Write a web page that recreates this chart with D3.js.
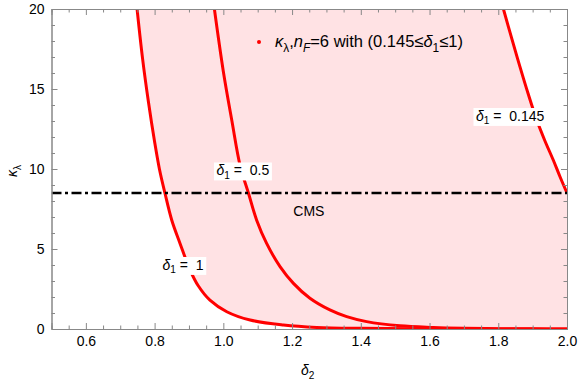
<!DOCTYPE html>
<html>
<head>
<meta charset="utf-8">
<script src="https://cdn.jsdelivr.net/npm/d3@7"></script>
<style>
  body { margin: 0; background: #fff; }
  text { font-family: "Liberation Sans", Arial, sans-serif; white-space: pre; }
</style>
</head>
<body>
<svg id="chart" width="581" height="382"></svg>
<script>
// curve delta1 = 1
const d2One = [0.749, 0.765, 0.782, 0.8, 0.814, 0.83, 0.85, 0.874, 0.903, 0.927, 0.961, 1.01, 1.078, 1.175, 1.272, 1.4, 1.55, 1.75, 2.0];
const kOne  = [20, 16.9, 14.2, 11.7, 10.0, 8.5, 6.8, 5.35, 3.7, 2.7, 1.8, 1.08, 0.56, 0.25, 0.1, 0.04, 0.015, 0.005, 0.001];
// curve delta1 = 0.5
const d2Half = [0.974, 1.0, 1.025, 1.049, 1.073, 1.097, 1.126, 1.165, 1.204, 1.252, 1.31, 1.359, 1.417, 1.514, 1.611, 1.7, 1.8, 1.9, 2.0];
const kHalf  = [20, 16.1, 13.0, 10.2, 8.5, 6.8, 5.35, 3.9, 2.85, 1.92, 1.19, 0.77, 0.46, 0.2, 0.1, 0.05, 0.022, 0.01, 0.004];
// curve delta1 = 0.145
const d2Low = [1.815, 1.84, 1.863, 1.887, 1.912, 1.935, 1.96, 1.98, 2.0];
const kLow  = [20, 18.1, 16.4, 14.7, 13.06, 11.8, 10.56, 9.5, 8.5];

const cmsLimit = 8.5;
const xMajor = [0.6, 0.8, 1.0, 1.2, 1.4, 1.6, 1.8, 2.0];
const yMajor = [0, 5, 10, 15, 20];

const svg = d3.select("#chart"),
      margin = {top: 9, right: 14, bottom: 53, left: 51.5},
      width = +svg.attr("width") - margin.left - margin.right,
      height = +svg.attr("height") - margin.top - margin.bottom;

const g = svg.append("g").attr("transform", `translate(${margin.left},${margin.top})`);

const x = d3.scaleLinear().domain([0.5, 2.0]).range([0, width]);
const y = d3.scaleLinear().domain([0, 20]).range([height, 0]);

svg.append("defs").append("clipPath").attr("id", "plot")
  .append("rect").attr("width", width).attr("height", height);

const toPts = (xs, ys) => xs.map((d, i) => [d, ys[i]]);
const one = toPts(d2One, kOne), half = toPts(d2Half, kHalf), low = toPts(d2Low, kLow);

const line = d3.line().x(d => x(d[0])).y(d => y(d[1])).curve(d3.curveCatmullRom.alpha(0.5));

const plot = g.append("g").attr("clip-path", "url(#plot)");

// shaded band between delta1 = 1 and delta1 = 0.145
const bandPath = line(one) + line(low.slice().reverse()).replace("M", "L") + "Z";
plot.append("path").attr("d", bandPath).attr("fill", "#ffe2e4");

[one, half, low].forEach(c => {
  plot.append("path").attr("d", line(c))
    .attr("fill", "none").attr("stroke", "#ff0000").attr("stroke-width", 3);
});

// CMS bound
plot.append("line")
  .attr("x1", 0).attr("x2", width)
  .attr("y1", y(cmsLimit)).attr("y2", y(cmsLimit))
  .attr("stroke", "#000").attr("stroke-width", 2.5)
  .attr("stroke-dasharray", "10,3.5,3,3.5");

// axes
const xMinor = d3.range(0.5, 2.0001, 0.05).filter(v => !xMajor.some(m => Math.abs(m - v) < 1e-6));
const yMinor = d3.range(0, 20.001, 1).filter(v => v % 5 !== 0);

function styleAxis(sel) {
  sel.select(".domain").attr("stroke", "#888");
  sel.selectAll(".tick line").attr("stroke", "#888");
  sel.selectAll(".tick text").attr("fill", "#000").attr("font-size", 14)
    .attr("font-family", "Liberation Sans, Arial, sans-serif");
}

g.append("g").attr("transform", `translate(0,${height})`)
  .call(d3.axisBottom(x).tickValues(xMajor).tickSize(-6).tickPadding(7).tickFormat(d3.format(".1f")))
  .call(styleAxis);
g.append("g").attr("transform", `translate(0,${height})`)
  .call(d3.axisBottom(x).tickValues(xMinor).tickSize(-3.5).tickFormat("").tickSizeOuter(0))
  .call(styleAxis);
g.append("g")
  .call(d3.axisTop(x).tickValues(xMajor).tickSize(-6).tickFormat(""))
  .call(styleAxis);
g.append("g")
  .call(d3.axisTop(x).tickValues(xMinor).tickSize(-3.5).tickFormat("").tickSizeOuter(0))
  .call(styleAxis);

g.append("g")
  .call(d3.axisLeft(y).tickValues(yMajor).tickSize(-6).tickPadding(7))
  .call(styleAxis);
g.append("g")
  .call(d3.axisLeft(y).tickValues(yMinor).tickSize(-3.5).tickFormat("").tickSizeOuter(0))
  .call(styleAxis);
g.append("g").attr("transform", `translate(${width},0)`)
  .call(d3.axisRight(y).tickValues(yMajor).tickSize(-6).tickFormat(""))
  .call(styleAxis);
g.append("g").attr("transform", `translate(${width},0)`)
  .call(d3.axisRight(y).tickValues(yMinor).tickSize(-3.5).tickFormat("").tickSizeOuter(0))
  .call(styleAxis);

// rich text helper: parts = [[text, italic, sub]]
function richText(parent, px, py, parts, size, anchor) {
  const t = parent.append("text").attr("x", px).attr("y", py)
    .attr("font-size", size).attr("text-anchor", anchor || "start").attr("fill", "#000");
  let down = false;
  parts.forEach(([s, it, sub]) => {
    const sp = t.append("tspan").text(s);
    if (it) sp.attr("font-style", "italic");
    if (sub) {
      sp.attr("font-size", size * 0.72);
      if (!down) sp.attr("dy", size * 0.28);
      down = true;
    } else if (down) {
      sp.attr("dy", -size * 0.28);
      down = false;
    }
  });
  return t;
}

function boxedLabel(px, py, parts) {
  const grp = g.append("g");
  const t = richText(grp, px - margin.left, py - margin.top, parts, 14);
  const b = t.node().getBBox();
  grp.insert("rect", "text").attr("x", b.x - 2.5).attr("y", b.y + 0.5)
    .attr("width", b.width + 5).attr("height", b.height - 1)
    .attr("fill", "#fff");
}

const eq = "\u00a0=\u00a0\u00a0";
boxedLabel(216.5, 175, [["δ", true], ["1", false, true], [eq, false], ["0.5", false]]);
boxedLabel(162.5, 269.5, [["δ", true], ["1", false, true], [eq, false], ["1", false]]);
boxedLabel(476, 120.5, [["δ", true], ["1", false, true], [eq, false], ["0.145", false]]);

g.append("text").attr("x", x(1.249)).attr("y", y(7.06)).attr("font-size", 14)
  .attr("text-anchor", "middle").text("CMS");

// legend
g.append("circle").attr("cx", 259 - margin.left).attr("cy", 42 - margin.top).attr("r", 2).attr("fill", "#ff0000");
richText(g, 275 - margin.left, 47 - margin.top,
  [["κ", true], ["λ", false, true], [",", false], ["n", true], ["F", true, true], ["=6 with (0.145≤", false],
   ["δ", true], ["1", false, true], ["≤1)", false]], 16.5);

// axis titles
richText(svg, 301, 375, [["δ", true], ["2", false, true]], 14);
richText(svg.append("g").attr("transform", "translate(17,177) rotate(-90)"), 0, 0,
  [["κ", true], ["λ", false, true]], 14);
</script>
</body>
</html>
